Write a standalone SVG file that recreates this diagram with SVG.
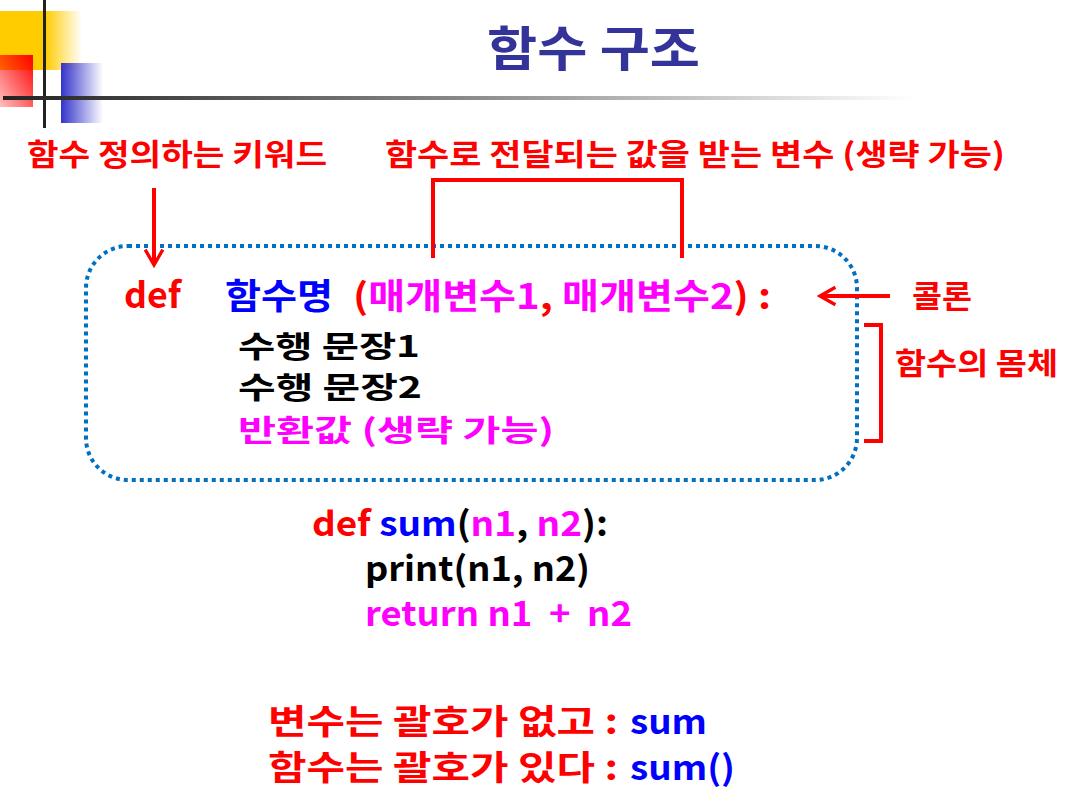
<svg xmlns="http://www.w3.org/2000/svg" width="1076" height="808" viewBox="0 0 1076 808">
<defs>
<linearGradient id="gy" x1="0" y1="0" x2="1" y2="0"><stop offset="0.55" stop-color="#FFCC00"/><stop offset="1" stop-color="#FFCC00" stop-opacity="0"/></linearGradient>
<linearGradient id="gr" x1="1" y1="0" x2="0" y2="1"><stop offset="0" stop-color="#FF0000"/><stop offset="1" stop-color="#FF0000" stop-opacity="0.25"/></linearGradient>
<linearGradient id="gb" x1="0" y1="0" x2="1" y2="0"><stop offset="0" stop-color="#3333CC"/><stop offset="1" stop-color="#3333CC" stop-opacity="0"/></linearGradient>
<linearGradient id="gl" x1="0" y1="0" x2="1" y2="0"><stop offset="0" stop-color="#222222"/><stop offset="0.5" stop-color="#888888"/><stop offset="1" stop-color="#FFFFFF"/></linearGradient>
<marker id="ah" viewBox="0 0 10 10" refX="8.5" refY="5" markerWidth="5.5" markerHeight="5.5" orient="auto" markerUnits="strokeWidth"><path d="M1.5,1 L8.5,5 L1.5,9" fill="none" stroke="#FF0000" stroke-width="1.5"/></marker>
</defs>
<style>
text{font-family:"Malgun Gothic","Noto Sans CJK KR","Noto Sans",sans-serif;font-weight:bold}
.red{fill:#FF0000}
.blue{fill:#0000FF}
.mag{fill:#FF00FF}
.blk{fill:#000000}
.ln{stroke:#FF0000;stroke-width:4;fill:none}
</style>
<rect width="1076" height="808" fill="#FFFFFF"/>
<g id="decor">
<rect x="0" y="11" width="82" height="59" fill="url(#gy)"/>
<rect x="0" y="55" width="33" height="52" fill="url(#gr)"/>
<rect x="61" y="63" width="42" height="60" fill="url(#gb)"/>
<rect x="43" y="0" width="3" height="128" fill="#222222"/>
<rect x="3" y="96" width="910" height="4" fill="url(#gl)"/>
</g>
<g id="title"><text x="487" y="66" font-size="48" fill="#333399" textLength="213" lengthAdjust="spacingAndGlyphs">함수 구조</text></g>
<g id="label-keyword"><text class="red" x="27" y="165" font-size="30" textLength="300" lengthAdjust="spacingAndGlyphs">함수 정의하는 키워드</text></g>
<g id="label-param"><text class="red" x="385" y="165" font-size="30" textLength="620" lengthAdjust="spacingAndGlyphs">함수로 전달되는 값을 받는 변수 (생략 가능)</text></g>
<g id="label-colon"><text class="red" x="912" y="307" font-size="30" textLength="60" lengthAdjust="spacingAndGlyphs">콜론</text></g>
<g id="label-body"><text class="red" x="895" y="374" font-size="30" textLength="163" lengthAdjust="spacingAndGlyphs">함수의 몸체</text></g>
<g id="struct">
<rect x="86" y="246" width="771" height="234" rx="42" fill="none" stroke="#0070C0" stroke-width="4" stroke-dasharray="4 4"/>
<text x="124" y="308" font-size="36" class="red" textLength="57" lengthAdjust="spacingAndGlyphs">def</text>
<text x="225" y="309" font-size="35" class="blue" textLength="108" lengthAdjust="spacingAndGlyphs">함수명</text>
<text x="353" y="309" font-size="35" textLength="418" lengthAdjust="spacingAndGlyphs"><tspan class="red">(</tspan><tspan class="mag">매개변수1</tspan><tspan class="red">, </tspan><tspan class="mag">매개변수2</tspan><tspan class="red">) :</tspan></text>
<text x="238" y="357" font-size="30" class="blk" textLength="182" lengthAdjust="spacingAndGlyphs">수행 문장1</text>
<text x="238" y="398" font-size="30" class="blk" textLength="184" lengthAdjust="spacingAndGlyphs">수행 문장2</text>
<text x="238" y="441" font-size="30" class="mag" textLength="316" lengthAdjust="spacingAndGlyphs">반환값 (생략 가능)</text>
</g>
<g id="code">
<text x="312" y="536" font-size="34" textLength="296" lengthAdjust="spacingAndGlyphs"><tspan class="red">def </tspan><tspan class="blue">sum</tspan><tspan class="blk">(</tspan><tspan class="mag">n1</tspan><tspan class="blk">, </tspan><tspan class="mag">n2</tspan><tspan class="blk">):</tspan></text>
<text x="365" y="581" font-size="34" class="blk" textLength="225" lengthAdjust="spacingAndGlyphs">print(n1, n2)</text>
<text x="365" y="626" font-size="34" class="mag" textLength="267" lengthAdjust="spacingAndGlyphs" xml:space="preserve">return n1  +  n2</text>
</g>
<g id="note">
<text x="268" y="734" font-size="34" class="red" textLength="350" lengthAdjust="spacingAndGlyphs">변수는 괄호가 없고 :</text>
<text x="630" y="734" font-size="34" class="blue" textLength="77" lengthAdjust="spacingAndGlyphs">sum</text>
<text x="268" y="780" font-size="34" class="red" textLength="350" lengthAdjust="spacingAndGlyphs">함수는 괄호가 있다 :</text>
<text x="630" y="780" font-size="34" class="blue" textLength="105" lengthAdjust="spacingAndGlyphs">sum()</text>
</g>
<g id="connectors">
<path class="ln" d="M154,188 L154,265" marker-end="url(#ah)"/>
<path class="ln" d="M433,258 L433,180 L682,180 L682,258"/>
<path class="ln" d="M890,296 L820,296" marker-end="url(#ah)"/>
<path class="ln" d="M864,325 L881,325 L881,441 L864,441"/>
</g>
</svg>
